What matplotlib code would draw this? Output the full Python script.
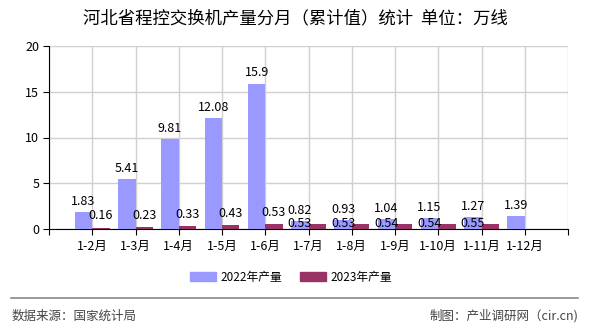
import numpy as np
import matplotlib
matplotlib.use('Agg')
import matplotlib.pyplot as plt
from matplotlib.patches import Patch

plt.rcParams['font.family'] = ['Noto Sans CJK SC', 'DejaVu Sans']

months = ['1-2月', '1-3月', '1-4月', '1-5月', '1-6月', '1-7月',
          '1-8月', '1-9月', '1-10月', '1-11月', '1-12月']
v2022 = [1.83, 5.41, 9.81, 12.08, 15.9, 0.82, 0.93, 1.04, 1.15, 1.27, 1.39]
v2023 = [0.16, 0.23, 0.33, 0.43, 0.53, 0.53, 0.53, 0.54, 0.54, 0.55]

c2022 = '#9999ff'
c2023 = '#993366'

fig = plt.figure(figsize=(5.9, 3.3), dpi=100)
ax = fig.add_axes([49 / 590, 1 - 229 / 330, 519 / 590, 183 / 330])

x = np.arange(1, len(months) + 1)
x23 = np.arange(1, len(v2023) + 1)
w = 0.4

ax.bar(x - w / 2, v2022, width=w, color=c2022, zorder=3)
ax.bar(x23 + w / 2, v2023, width=w, color=c2023, zorder=3)

# подписи значений
for xi, v in zip(x, v2022):
    ax.text(xi - w / 2, v + 1.2, '%g' % v, ha='center', va='center', fontsize=9, zorder=4)
for xi, v in zip(x23, v2023):
    if xi <= 5:
        ax.text(xi + w / 2, v + 1.3, '%g' % v, ha='center', va='center', fontsize=9, zorder=4)
    else:
        # с 1-7 подписи сдвинуты влево, как в оригинале
        ax.text(xi - w / 2, v + 0.1, '%g' % v, ha='center', va='center', fontsize=9, zorder=4)

ax.set_xlim(0, 12)
ax.set_ylim(0, 20)
ax.set_yticks([0, 5, 10, 15, 20])
ax.set_xticks(np.arange(0, 13))
ax.set_xticklabels([''] + months + [''])
ax.tick_params(axis='both', labelsize=9, length=4, color='black', pad=3)
ax.tick_params(axis='x', pad=4)

ax.grid(True, color='#d0d0d0', linewidth=1, zorder=0)
for s in ['top', 'right']:
    ax.spines[s].set_visible(False)
ax.spines['left'].set_color('black')
ax.spines['bottom'].set_color('black')

fig.text(0.5, 1 - 18 / 330, '河北省程控交换机产量分月（累计值）统计  单位：万线',
         ha='center', va='center', fontsize=12.5)

handles = [Patch(color=c2022, label='2022年产量'), Patch(color=c2023, label='2023年产量')]
fig.legend(handles=handles, loc='center', bbox_to_anchor=(291 / 590, 1 - 277 / 330),
           ncol=2, frameon=False, fontsize=8.5, handlelength=2.2, handleheight=0.8,
           columnspacing=1.5, handletextpad=0.4)

fig.add_artist(plt.Line2D([11 / 590, 578 / 590], [1 - 298 / 330, 1 - 298 / 330],
                          color='#888888', linewidth=1.2))
fig.text(12 / 590, 1 - 316 / 330, '数据来源：国家统计局', ha='left', va='center',
         fontsize=9, color='#444444')
fig.text(578 / 590, 1 - 316 / 330, '制图：产业调研网（cir.cn)', ha='right', va='center',
         fontsize=9, color='#444444')

fig.savefig('out.png', dpi=100)
